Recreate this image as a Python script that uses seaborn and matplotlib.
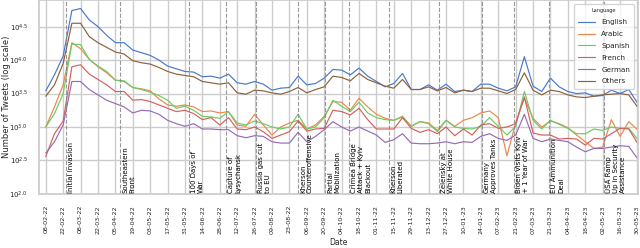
import numpy as np
import pandas as pd
import matplotlib
matplotlib.use("Agg")
import matplotlib.pyplot as plt
import matplotlib.dates as mdates
import seaborn as sns

# weekly bins, 08-02-22 .. 30-05-23
weeks = pd.date_range("2022-02-08", "2023-05-30", freq="7D")
languages = ["English", "Arabic", "Spanish", "French", "German", "Others"]

# weekly tweet counts as log10 exponents
english = [3.54, 3.78, 4.06, 4.74, 4.77, 4.60, 4.50, 4.37, 4.26, 4.26, 4.15, 4.11,
           4.07, 4.00, 3.91, 3.87, 3.83, 3.82, 3.75, 3.76, 3.73, 3.79, 3.66, 3.64,
           3.68, 3.64, 3.55, 3.58, 3.59, 3.76, 3.63, 3.65, 3.73, 3.86, 3.85, 3.78,
           3.88, 3.76, 3.68, 3.60, 3.65, 3.80, 3.56, 3.56, 3.63, 3.55, 3.64, 3.53,
           3.55, 3.53, 3.64, 3.64, 3.58, 3.54, 3.60, 4.05, 3.61, 3.53, 3.73, 3.60,
           3.53, 3.50, 3.51, 3.46, 3.47, 3.55, 3.50, 3.56, 3.36]
arabic = [3.00, 3.30, 3.63, 4.26, 4.17, 4.01, 3.90, 3.81, 3.70, 3.68, 3.59, 3.57,
          3.54, 3.42, 3.33, 3.31, 3.33, 3.30, 3.23, 3.24, 3.21, 3.23, 3.03, 3.01,
          3.19, 3.03, 2.88, 3.00, 3.06, 3.10, 2.97, 3.03, 3.16, 3.38, 3.37, 3.25,
          3.43, 3.30, 3.19, 3.13, 3.10, 3.16, 3.01, 3.08, 3.06, 2.95, 3.10, 3.01,
          3.10, 3.14, 3.21, 3.24, 3.14, 2.57, 3.06, 3.43, 3.13, 3.00, 3.09, 3.05,
          2.99, 2.88, 2.78, 2.68, 2.70, 3.11, 2.86, 3.08, 2.96]
spanish = [3.00, 3.20, 3.50, 4.24, 4.23, 4.01, 3.91, 3.83, 3.70, 3.69, 3.59, 3.56,
           3.52, 3.47, 3.40, 3.28, 3.31, 3.25, 3.16, 3.15, 3.13, 3.23, 3.06, 3.03,
           3.09, 3.05, 3.00, 2.97, 3.00, 3.19, 2.97, 3.00, 3.14, 3.40, 3.31, 3.23,
           3.37, 3.21, 3.14, 3.11, 3.10, 3.15, 3.01, 3.08, 3.05, 2.93, 3.10, 3.00,
           2.98, 2.97, 3.01, 3.14, 3.01, 2.88, 3.01, 3.53, 3.10, 2.97, 3.10, 3.04,
           2.98, 2.90, 2.90, 2.97, 2.95, 3.00, 2.98, 2.98, 2.82]
french = [2.56, 2.90, 3.09, 3.90, 3.93, 3.79, 3.71, 3.63, 3.53, 3.53, 3.40, 3.41,
          3.38, 3.33, 3.28, 3.23, 3.25, 3.20, 3.11, 3.14, 3.03, 3.14, 2.97, 2.96,
          3.00, 2.93, 2.83, 2.88, 2.93, 3.09, 2.94, 2.97, 2.98, 3.25, 3.23, 3.18,
          3.28, 3.11, 2.97, 2.97, 2.97, 3.14, 2.98, 2.92, 2.96, 2.90, 3.00, 2.87,
          2.97, 2.88, 3.03, 3.05, 2.98, 3.00, 3.05, 3.45, 2.91, 2.88, 2.88, 2.82,
          2.83, 2.82, 2.73, 2.83, 2.82, 2.90, 2.98, 2.97, 2.76]
german = [2.61, 2.78, 3.03, 3.68, 3.68, 3.56, 3.48, 3.40, 3.35, 3.30, 3.21, 3.25,
          3.24, 3.19, 3.10, 3.05, 3.01, 3.05, 2.97, 2.97, 2.96, 2.96, 2.87, 2.84,
          2.87, 2.86, 2.78, 2.76, 2.76, 2.92, 2.78, 2.86, 2.96, 3.08, 3.00, 2.94,
          3.00, 2.94, 2.88, 2.77, 2.81, 2.90, 2.76, 2.75, 2.75, 2.76, 2.78, 2.75,
          2.78, 2.77, 2.86, 2.90, 2.83, 2.80, 2.88, 3.19, 2.83, 2.78, 2.82, 2.80,
          2.78, 2.70, 2.63, 2.68, 2.68, 2.70, 2.72, 2.71, 2.53]
others = [3.46, 3.63, 3.95, 4.55, 4.55, 4.35, 4.26, 4.19, 4.12, 4.09, 3.99, 3.96,
          3.94, 3.89, 3.83, 3.79, 3.77, 3.75, 3.68, 3.66, 3.64, 3.66, 3.51, 3.49,
          3.55, 3.54, 3.51, 3.49, 3.53, 3.59, 3.51, 3.56, 3.60, 3.76, 3.74, 3.69,
          3.80, 3.71, 3.66, 3.61, 3.58, 3.71, 3.56, 3.56, 3.60, 3.54, 3.59, 3.51,
          3.55, 3.53, 3.58, 3.58, 3.54, 3.50, 3.56, 3.81, 3.55, 3.48, 3.55, 3.53,
          3.48, 3.45, 3.44, 3.46, 3.48, 3.49, 3.50, 3.48, 3.30]

event_dates = ["2022-02-24", "2022-04-09", "2022-06-03", "2022-07-03", "2022-07-27",
               "2022-08-30", "2022-09-21", "2022-10-10", "2022-11-11", "2022-12-21",
               "2023-01-25", "2023-02-20", "2023-03-20", "2023-05-03"]
event_labels = ["Initial Invasion", "Southeastern\nFront", "100 Days of\nWar",
                "Capture of\nLysychansk", "Russia gas cut\nto EU", "Kherson\nCounteroffensive",
                "Partial\nMobilization", "Crimea Bridge\nAttack + Kyiv\nBlackout",
                "Kherson\nLiberated", "Zelensky at\nWhite House", "Germany\nApproves Tanks",
                "Biden Visits Kyiv\n+ 1 Year of War", "EU Ammunition\nDeal",
                "USA Ramp\nUp in Security\nAssistance"]

series = [english, arabic, spanish, french, german, others]
df = pd.DataFrame({
    "Date": np.tile(weeks, len(languages)),
    "Language": np.repeat(languages, len(weeks)),
    "Tweets": 10 ** np.concatenate(series),
})

sns.set_theme(style="whitegrid", palette="muted")
fig, ax = plt.subplots(figsize=(6.4, 2.48), dpi=100)
fig.subplots_adjust(left=0.061, right=0.997, bottom=0.218, top=0.998)

sns.lineplot(data=df, x="Date", y="Tweets", hue="Language", hue_order=languages,
             linewidth=0.85, ax=ax)

ax.set_yscale("log")
ax.set_ylim(10 ** 2, 10 ** 4.89)
yt = [2.0, 2.5, 3.0, 3.5, 4.0, 4.5]
ax.set_yticks([10 ** v for v in yt])
ax.set_yticklabels([f"$10^{{{v:.1f}}}$" for v in yt], fontsize=5)
ax.yaxis.set_minor_locator(plt.NullLocator())

tick_dates = pd.date_range("2022-02-08", "2023-05-30", freq="14D")
ax.set_xticks(tick_dates)
ax.set_xticklabels([d.strftime("%d-%m-%y") for d in tick_dates], rotation=90, fontsize=4.6)
ax.set_xlim(pd.Timestamp("2022-02-02 14:00"), pd.Timestamp("2023-05-30 12:00"))
ax.tick_params(axis="both", pad=2)

# key events
for d, label in zip(event_dates, event_labels):
    x = mdates.date2num(pd.Timestamp(d))
    ax.axvline(x, color="gray", ls="--", lw=0.8, alpha=0.8)
    ax.text(x + 1.6, 10 ** 2.02, label, rotation=90, fontsize=5, ha="left",
            va="bottom", multialignment="left", color="black")

ax.set_xlabel("Date", fontsize=5.5, labelpad=3)
ax.set_ylabel("Number of Tweets (log scale)", fontsize=6)
ax.yaxis.set_label_coords(-0.047, 0.5)
ax.legend(title="Language", loc="upper right", fontsize=5.2, title_fontsize=3.6,
          handlelength=2.4, labelspacing=0.8, borderpad=0.6)

plt.savefig("out.png", dpi=100)
